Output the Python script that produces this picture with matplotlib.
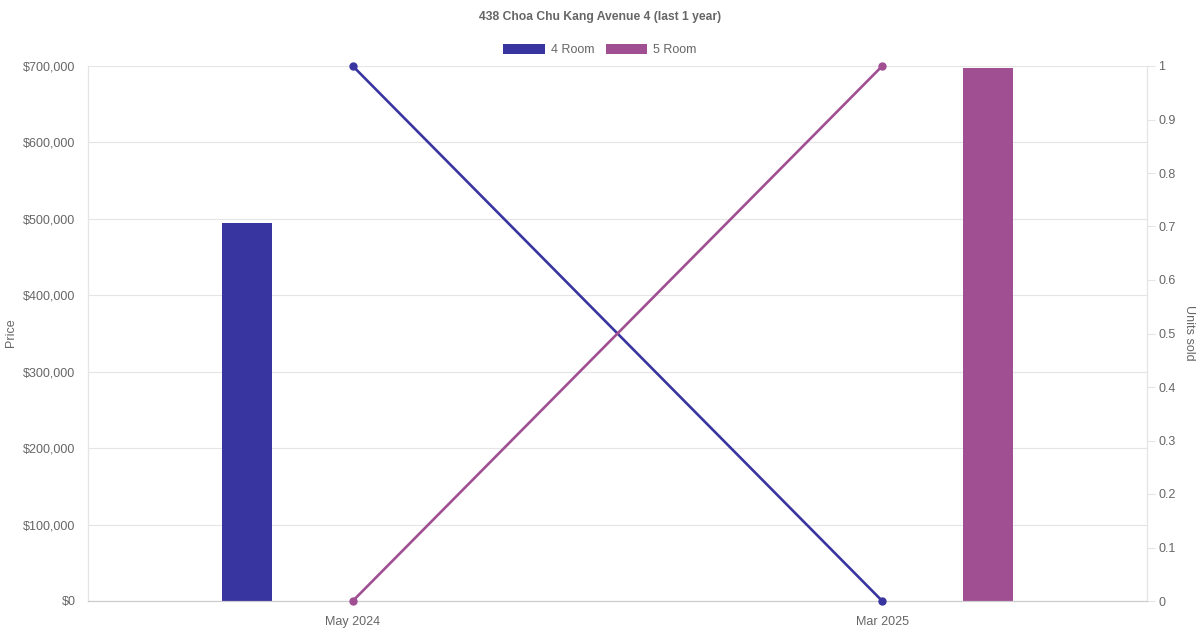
import matplotlib
matplotlib.use("Agg")
from matplotlib import pyplot as plt
from matplotlib.patches import Patch
from matplotlib.ticker import FuncFormatter
import numpy as np

plt.rcParams['font.family'] = ['Liberation Sans', 'DejaVu Sans']

# data
months = ["May 2024", "Mar 2025"]
room_types = ["4 Room", "5 Room"]
price_4room = [495000, 0]
price_5room = [0, 698000]
units_4room = [1, 0]
units_5room = [0, 1]
colors = ["#3935a0", "#a04f92"]

text_col = "#666666"
grid_col = "#e5e5e5"
fs = 9

fig = plt.figure(figsize=(12, 6.3), dpi=100)
ax = fig.add_axes([88/1200, 1-601/630, (1147-88)/1200, (601-66)/630])
ax2 = ax.twinx()

x = np.arange(len(months))
off = 0.2
w = 50/529.5
ax.bar(x - off, price_4room, width=w, color=colors[0], zorder=2)
ax.bar(x + off, price_5room, width=w, color=colors[1], zorder=2)

ax2.plot(x, units_4room, color=colors[0], lw=1.9, marker="o", ms=5, zorder=3, clip_on=False)
ax2.plot(x, units_5room, color=colors[1], lw=1.9, marker="o", ms=5, zorder=3, clip_on=False)

ax.set_xlim(-0.5, 1.5)
ax.set_ylim(0, 700000)
ax2.set_ylim(0, 1)
ax.set_yticks(np.arange(0, 700001, 100000))
ax.yaxis.set_major_formatter(FuncFormatter(lambda v, p: "${:,.0f}".format(v)))
ax2.set_yticks(np.arange(0, 1.01, 0.1))
ax2.yaxis.set_major_formatter(FuncFormatter(lambda v, p: "{:g}".format(round(v, 1))))
ax.set_xticks(x)
ax.set_xticklabels(months)

ax.grid(axis="y", color=grid_col, lw=0.8, zorder=0)
ax.tick_params(axis="y", length=0, pad=9, labelsize=fs, labelcolor=text_col)
ax.tick_params(axis="x", length=0, pad=11, labelsize=fs, labelcolor=text_col)
ax2.tick_params(axis="y", length=6, color=grid_col, pad=2, labelsize=fs, labelcolor=text_col)

for a in (ax, ax2):
    a.spines["top"].set_visible(False)
    a.spines["left"].set_color(grid_col)
    a.spines["right"].set_color(grid_col)
    a.spines["bottom"].set_color("#cccccc")
    a.set_facecolor("none")

fig.text(11/1200, 1-333/630, "Price", rotation=90, ha="center", va="center",
         fontsize=fs, color=text_col)
fig.text(1189/1200, 1-333/630, "Units sold", rotation=270, ha="center", va="center",
         fontsize=fs, color=text_col)

fig.text(0.5, 1-17/630, "438 Choa Chu Kang Avenue 4 (last 1 year)", ha="center", va="center",
         fontsize=8.7, fontweight="bold", color=text_col)

handles = [Patch(facecolor=colors[i], label=room_types[i]) for i in range(2)]
leg = fig.legend(handles=handles, loc="center", bbox_to_anchor=(0.5, 1-50/630), ncol=2,
                 frameon=False, fontsize=fs, handlelength=3.3, handleheight=0.9,
                 handletextpad=0.5, columnspacing=0.9)
for t in leg.get_texts():
    t.set_color(text_col)

fig.savefig("out.png", dpi=100)
